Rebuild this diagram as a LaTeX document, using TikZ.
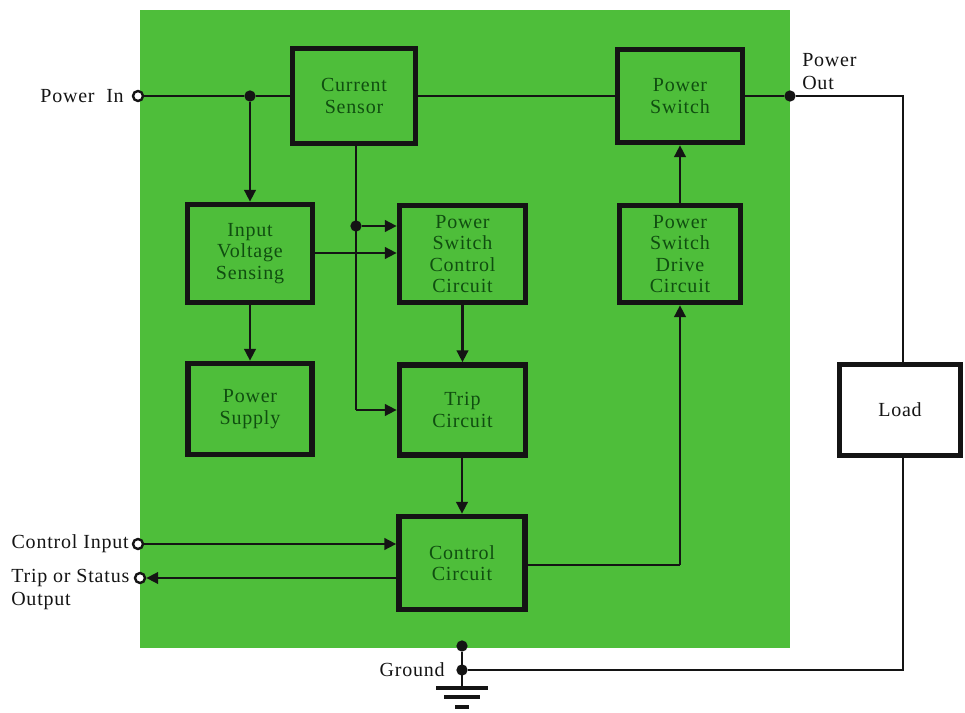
\documentclass[tikz,border=0pt]{standalone}
\usepackage{fontspec}
\setmainfont{Liberation Serif}[LetterSpace=4]
\usetikzlibrary{arrows.meta}
\definecolor{bggreen}{RGB}{78,190,58}
\definecolor{txtgreen}{RGB}{16,78,16}
\definecolor{ink}{RGB}{20,20,20}
\begin{document}
\begin{tikzpicture}[x=0.75pt,y=-0.75pt,
  blk/.style={draw=ink, line width=4pt, fill=bggreen, text=txtgreen, align=center,
    font=\fontsize{15}{16}\selectfont, inner sep=0pt},
  loadbox/.style={draw=ink, line width=4pt, fill=white, text=ink, align=center,
    font=\fontsize{15}{16}\selectfont, inner sep=0pt},
  wire/.style={draw=ink, line width=2.2pt},
  thinwire/.style={draw=ink, line width=1.6pt},
  arr/.style={wire, -{Triangle[length=9pt,width=8.5pt]}},
  lbl/.style={text=ink, font=\fontsize{15}{17}\selectfont, inner sep=0pt, align=left},
  opendot/.style={circle, draw=ink, line width=1.8pt, fill=white, minimum size=7.5pt, inner sep=0pt},
  soliddot/.style={circle, fill=ink, minimum size=8.5pt, inner sep=0pt},
  gbar/.style={draw=ink, line width=2.4pt}]
\useasboundingbox (0,0) rectangle (965,713);
\fill[bggreen] (140,10) rectangle (790,648);

% blocks
\node[blk, minimum width=92.25pt, minimum height=71.25pt] (cs) at (354,96) {Current\\Sensor};
\node[blk, minimum width=93.75pt, minimum height=69.75pt] (ps) at (680,96) {Power\\Switch};
\node[blk, minimum width=93.75pt, minimum height=73.5pt] (ivs) at (250,253.5) {Input\\Voltage\\Sensing};
\node[blk, minimum width=94.5pt, minimum height=72.75pt] (pscc) at (462.5,254) {Power\\Switch\\Control\\Circuit};
\node[blk, minimum width=90.75pt, minimum height=72.75pt] (psdc) at (680,254) {Power\\Switch\\Drive\\Circuit};
\node[blk, minimum width=93pt, minimum height=68.25pt] (psu) at (250,409) {Power\\Supply};
\node[blk, minimum width=94.5pt, minimum height=67.5pt] (trip) at (462.5,410) {Trip\\Circuit};
\node[blk, minimum width=94.5pt, minimum height=69.75pt] (ctrl) at (462,563) {Control\\Circuit};
\node[loadbox, minimum width=90.75pt, minimum height=68.25pt] (load) at (900,410) {Load};

% terminals and junctions
\node[opendot] (pin) at (138,96) {};
\node[opendot] (cin) at (138,544) {};
\node[opendot] (tso) at (140,578) {};
\node[soliddot] (j1) at (250,96) {};
\node[soliddot] (j2) at (356,226) {};
\node[soliddot] (pout) at (790,96) {};
\node[soliddot] (g1) at (462,646) {};
\node[soliddot] (g2) at (462,670) {};
\coordinate (cstap) at (356,145);
\coordinate (tripin) at (356,410);
\coordinate (y253) at (0,253);
\coordinate (y226) at (0,226);
\coordinate (y544) at (0,544);
\coordinate (y578) at (0,578);
\coordinate (y565) at (0,565);
\coordinate (pocorner) at (903,96);
\coordinate (gcorner) at (903,670);
\coordinate (gnd) at (462,688);

% labels
\node[lbl, anchor=east] (lpin) at (124,96) {Power\ \ In};
\node[lbl, anchor=north west] (lpout) at (802,53) {Power\\Out};
\node[lbl, anchor=east] (lcin) at (129,544) {Control Input};
\node[lbl, anchor=north west] (ltso) at (11,569) {Trip or Status\\Output};
\node[lbl, anchor=east] (lgnd) at (445,670) {Ground};

% connectors
\draw[wire] (pin) -- (j1) -- (cs.west);
\draw[arr] (j1) -- (ivs.north);
\draw[wire] (cs.east) -- (ps.west);
\draw[wire] (ps.east) -- (pout);
\draw[thinwire] (pout) -- (pocorner) -- (load.north -| pocorner);
\draw[thinwire] (load.south -| gcorner) -- (gcorner) -- (g2);
\draw[wire] (cstap) -- (tripin);
\draw[arr] (tripin) -- (trip.west |- tripin);
\draw[arr] (j2) -- (pscc.west |- y226);
\draw[arr] (ivs.east |- y253) -- (pscc.west |- y253);
\draw[arr] (ivs.south) -- (psu.north);
\draw[arr] (pscc.south -| trip.north) -- (trip.north);
\draw[arr] (trip.south -| ctrl.north) -- (ctrl.north);
\draw[arr] (cin) -- (ctrl.west |- y544);
\draw[arr] (ctrl.west |- y578) -- (tso);
\draw[wire] (ctrl.east |- y565) -- (psdc.south |- y565);
\draw[arr] (psdc.south |- y565) -- (psdc.south);
\draw[arr] (psdc.north) -- (ps.south);
\draw[wire] (g1) -- (gnd);
\draw[gbar] ([xshift=-26*0.75pt]gnd) -- ([xshift=26*0.75pt]gnd);
\draw[gbar] ([xshift=-18*0.75pt,yshift=-9*0.75pt]gnd) -- ([xshift=18*0.75pt,yshift=-9*0.75pt]gnd);
\draw[gbar] ([xshift=-7*0.75pt,yshift=-19*0.75pt]gnd) -- ([xshift=7*0.75pt,yshift=-19*0.75pt]gnd);
\end{tikzpicture}
\end{document}
